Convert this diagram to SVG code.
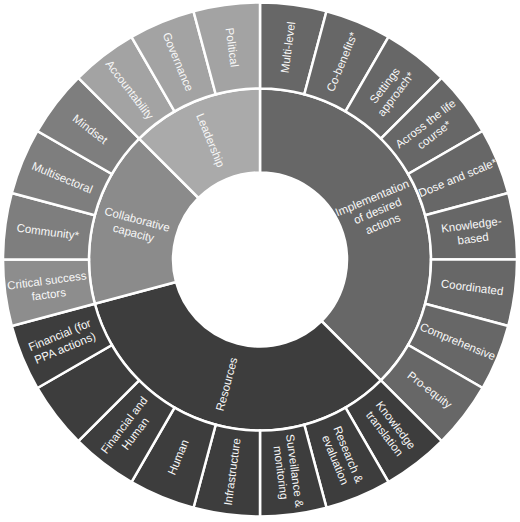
<svg xmlns="http://www.w3.org/2000/svg" width="520" height="522" viewBox="0 0 520 522">
<style>
path{stroke:#fff;stroke-width:2.5;stroke-linejoin:miter}
.impl{fill:#676767}
.res{fill:#3d3d3d}
.col{fill:#8b8b8b}
.colc{fill:#7e7e7e}
.csf{fill:#8d8d8d}
.lead{fill:#aaaaaa}
.leadc{fill:#a3a3a3}
text{fill:#f7f7f7;font-family:"Liberation Sans","DejaVu Sans",sans-serif;font-size:11.5px;text-anchor:middle}
</style>
<rect width="520" height="522" fill="#fff"/>
<!-- inner ring -->
<g id="implementation"><path class="impl" d="M260 88.5A171 171 0 0 1 380.9 380.4L321.5 321A87 87 0 0 0 260 172.5Z"/><text transform="translate(377.5,210.8) rotate(-22.5)"><tspan x="0" y="-10">Implementation</tspan><tspan x="0" y="4">of desired</tspan><tspan x="0" y="18">actions</tspan></text></g>
<g id="resources"><path class="res" d="M380.9 380.4A171 171 0 0 1 94.8 303.8L176 282A87 87 0 0 0 321.5 321Z"/><text transform="translate(226.6,384.1) rotate(-75)"><tspan x="0" y="4">Resources</tspan></text></g>
<g id="collaborative"><path class="col" d="M94.8 303.8A171 171 0 0 1 139.1 138.6L198.5 198A87 87 0 0 0 176 282Z"/><text transform="translate(135.4,226.1) rotate(15)"><tspan x="0" y="-3">Collaborative</tspan><tspan x="0" y="11">capacity</tspan></text></g>
<g id="leadership"><path class="lead" d="M139.1 138.6A171 171 0 0 1 260 88.5L260 172.5A87 87 0 0 0 198.5 198Z"/><text transform="translate(210.6,140.3) rotate(67.5)"><tspan x="0" y="4">Leadership</tspan></text></g>
<!-- outer ring: implementation -->
<g id="multilevel"><path class="impl" d="M260 2.5A257 257 0 0 1 326.5 11.3L304.3 94.3A171 171 0 0 0 260 88.5Z"/><text transform="translate(287.9,47.3) rotate(-82.5)"><tspan x="0" y="4">Multi-level</tspan></text></g>
<g id="cobenefits"><path class="impl" d="M326.5 11.3A257 257 0 0 1 388.5 36.9L345.5 111.4A171 171 0 0 0 304.3 94.3Z"/><text transform="translate(341.9,61.8) rotate(-67.5)"><tspan x="0" y="4">Co-benefits*</tspan></text></g>
<g id="settings"><path class="impl" d="M388.5 36.9A257 257 0 0 1 441.7 77.8L380.9 138.6A171 171 0 0 0 345.5 111.4Z"/><text transform="translate(390.3,89.7) rotate(-52.5)"><tspan x="0" y="-3">Settings</tspan><tspan x="0" y="11">approach*</tspan></text></g>
<g id="lifecourse"><path class="impl" d="M441.7 77.8A257 257 0 0 1 482.6 131L408.1 174A171 171 0 0 0 380.9 138.6Z"/><text transform="translate(429.8,129.2) rotate(-37.5)"><tspan x="0" y="-3">Across the life</tspan><tspan x="0" y="11">course*</tspan></text></g>
<g id="dose"><path class="impl" d="M482.6 131A257 257 0 0 1 508.2 193L425.2 215.2A171 171 0 0 0 408.1 174Z"/><text transform="translate(457.7,177.6) rotate(-22.5)"><tspan x="0" y="4">Dose and scale*</tspan></text></g>
<g id="knowledgebased"><path class="impl" d="M508.2 193A257 257 0 0 1 517 259.5L431 259.5A171 171 0 0 0 425.2 215.2Z"/><text transform="translate(472.2,231.6) rotate(-7.5)"><tspan x="0" y="-3">Knowledge-</tspan><tspan x="0" y="11">based</tspan></text></g>
<g id="coordinated"><path class="impl" d="M517 259.5A257 257 0 0 1 508.2 326L425.2 303.8A171 171 0 0 0 431 259.5Z"/><text transform="translate(472.2,287.4) rotate(7.5)"><tspan x="0" y="4">Coordinated</tspan></text></g>
<g id="comprehensive"><path class="impl" d="M508.2 326A257 257 0 0 1 482.6 388L408.1 345A171 171 0 0 0 425.2 303.8Z"/><text transform="translate(457.7,341.4) rotate(22.5)"><tspan x="0" y="4">Comprehensive</tspan></text></g>
<g id="proequity"><path class="impl" d="M482.6 388A257 257 0 0 1 441.7 441.2L380.9 380.4A171 171 0 0 0 408.1 345Z"/><text transform="translate(429.8,389.8) rotate(37.5)"><tspan x="0" y="4">Pro-equity</tspan></text></g>
<!-- outer ring: resources -->
<g id="knowledgetranslation"><path class="res" d="M441.7 441.2A257 257 0 0 1 388.5 482.1L345.5 407.6A171 171 0 0 0 380.9 380.4Z"/><text transform="translate(390.3,429.3) rotate(52.5)"><tspan x="0" y="-3">Knowledge</tspan><tspan x="0" y="11">translation</tspan></text></g>
<g id="research"><path class="res" d="M388.5 482.1A257 257 0 0 1 326.5 507.7L304.3 424.7A171 171 0 0 0 345.5 407.6Z"/><text transform="translate(341.9,457.2) rotate(67.5)"><tspan x="0" y="-3">Research &amp;</tspan><tspan x="0" y="11">evaluation</tspan></text></g>
<g id="surveillance"><path class="res" d="M326.5 507.7A257 257 0 0 1 260 516.5L260 430.5A171 171 0 0 0 304.3 424.7Z"/><text transform="translate(287.9,471.7) rotate(82.5)"><tspan x="0" y="-3">Surveillance &amp;</tspan><tspan x="0" y="11">monitoring</tspan></text></g>
<g id="infrastructure"><path class="res" d="M260 516.5A257 257 0 0 1 193.5 507.7L215.7 424.7A171 171 0 0 0 260 430.5Z"/><text transform="translate(232.1,471.7) rotate(-82.5)"><tspan x="0" y="4">Infrastructure</tspan></text></g>
<g id="human"><path class="res" d="M193.5 507.7A257 257 0 0 1 131.5 482.1L174.5 407.6A171 171 0 0 0 215.7 424.7Z"/><text transform="translate(178.1,457.2) rotate(-67.5)"><tspan x="0" y="4">Human</tspan></text></g>
<g id="financialhuman"><path class="res" d="M131.5 482.1A257 257 0 0 1 78.3 441.2L139.1 380.4A171 171 0 0 0 174.5 407.6Z"/><text transform="translate(129.7,429.3) rotate(-52.5)"><tspan x="0" y="-3">Financial and</tspan><tspan x="0" y="11">Human</tspan></text></g>
<g id="blank"><path class="res" d="M78.3 441.2A257 257 0 0 1 37.4 388L111.9 345A171 171 0 0 0 139.1 380.4Z"/></g>
<g id="financialppa"><path class="res" d="M37.4 388A257 257 0 0 1 11.8 326L94.8 303.8A171 171 0 0 0 111.9 345Z"/><text transform="translate(62.3,341.4) rotate(-22.5)"><tspan x="0" y="-3">Financial (for</tspan><tspan x="0" y="11">PPA actions)</tspan></text></g>
<!-- outer ring: collaborative capacity -->
<g id="criticalsuccess"><path class="csf" d="M11.8 326A257 257 0 0 1 3 259.5L89 259.5A171 171 0 0 0 94.8 303.8Z"/><text transform="translate(47.8,287.4) rotate(-7.5)"><tspan x="0" y="-3">Critical success</tspan><tspan x="0" y="11">factors</tspan></text></g>
<g id="community"><path class="colc" d="M3 259.5A257 257 0 0 1 11.8 193L94.8 215.2A171 171 0 0 0 89 259.5Z"/><text transform="translate(47.8,231.6) rotate(7.5)"><tspan x="0" y="4">Community*</tspan></text></g>
<g id="multisectoral"><path class="colc" d="M11.8 193A257 257 0 0 1 37.4 131L111.9 174A171 171 0 0 0 94.8 215.2Z"/><text transform="translate(62.3,177.6) rotate(22.5)"><tspan x="0" y="4">Multisectoral</tspan></text></g>
<g id="mindset"><path class="colc" d="M37.4 131A257 257 0 0 1 78.3 77.8L139.1 138.6A171 171 0 0 0 111.9 174Z"/><text transform="translate(90.2,129.2) rotate(37.5)"><tspan x="0" y="4">Mindset</tspan></text></g>
<!-- outer ring: leadership -->
<g id="accountability"><path class="leadc" d="M78.3 77.8A257 257 0 0 1 131.5 36.9L174.5 111.4A171 171 0 0 0 139.1 138.6Z"/><text transform="translate(129.7,89.7) rotate(52.5)"><tspan x="0" y="4">Accountability</tspan></text></g>
<g id="governance"><path class="leadc" d="M131.5 36.9A257 257 0 0 1 193.5 11.3L215.7 94.3A171 171 0 0 0 174.5 111.4Z"/><text transform="translate(178.1,61.8) rotate(67.5)"><tspan x="0" y="4">Governance</tspan></text></g>
<g id="political"><path class="leadc" d="M193.5 11.3A257 257 0 0 1 260 2.5L260 88.5A171 171 0 0 0 215.7 94.3Z"/><text transform="translate(232.1,47.3) rotate(82.5)"><tspan x="0" y="4">Political</tspan></text></g>
</svg>
